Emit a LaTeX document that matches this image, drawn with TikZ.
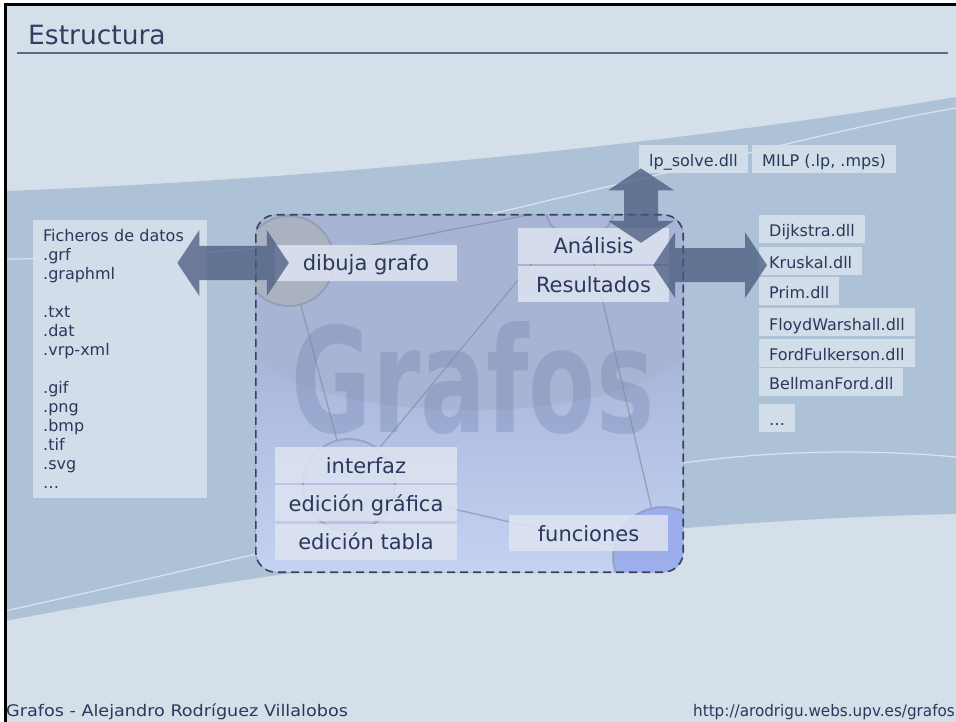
\documentclass[tikz,border=0pt]{standalone}
\usepackage{fontspec}
\setmainfont{DejaVu Sans}
\newfontfamily\footfont[FakeStretch=0.95]{DejaVu Sans}
\newfontfamily\authorfont[FakeStretch=1.1]{DejaVu Sans}
\usepackage{graphicx}
\usepackage{tikz}
\usetikzlibrary{positioning,calc}
\definecolor{slidebg}{RGB}{213,223,233}
\definecolor{bandcolor}{RGB}{173,194,215}
\definecolor{txtcolor}{RGB}{43,56,92}
\definecolor{titlecolor}{RGB}{48,64,100}
\definecolor{rulecolor}{RGB}{90,106,138}
\definecolor{tagfill}{RGB}{222,228,240}
\definecolor{listfill}{RGB}{214,224,234}
\definecolor{arrowcolor}{RGB}{72,90,126}
\definecolor{edgecolor}{RGB}{130,140,160}
\definecolor{coretop}{RGB}{168,180,211}
\definecolor{coremid}{RGB}{150,163,203}
\definecolor{corebot}{RGB}{196,210,242}
\definecolor{dashcolor}{RGB}{52,66,100}
\definecolor{markcolor}{RGB}{110,126,172}
\definecolor{vgrey}{RGB}{172,177,184}
\definecolor{vblue}{RGB}{176,186,232}
\definecolor{vdeep}{RGB}{150,168,236}

\begin{document}
\begin{tikzpicture}[
    x=1pt, y=-1pt,
    tagbox/.style={fill=tagfill, fill opacity=0.85, text opacity=1, text=txtcolor, font=\fontsize{21}{25}\selectfont, text height=21pt, text depth=5pt, minimum height=36pt, inner sep=0pt},
    dll/.style={fill=listfill, fill opacity=0.9, text opacity=1, text=txtcolor, font=\fontsize{16}{19}\selectfont, text height=19pt, text depth=3.5pt, minimum height=28pt, inner xsep=10pt, inner ysep=0pt},
    filebox/.style={fill=listfill, fill opacity=0.9, text opacity=1, text=txtcolor, font=\fontsize{16}{19}\selectfont, align=left, inner xsep=10pt, inner ysep=8pt},
    vnode/.style={circle, inner sep=0pt, draw=edgecolor, line width=2pt, draw opacity=0.5},
    graphline/.style={draw=edgecolor, line width=1.3pt, draw opacity=0.65},
    bigarrow/.style={fill=arrowcolor, fill opacity=0.75,
        to path={(\tikztostart)
            -- ($(\tikztostart)!22pt!(\tikztotarget)!33pt!90:(\tikztotarget)$)
            -- ($(\tikztostart)!22pt!(\tikztotarget)!17pt!90:(\tikztotarget)$)
            -- ($(\tikztotarget)!22pt!(\tikztostart)!17pt!-90:(\tikztostart)$)
            -- ($(\tikztotarget)!22pt!(\tikztostart)!33pt!-90:(\tikztostart)$)
            -- (\tikztotarget)
            -- ($(\tikztotarget)!22pt!(\tikztostart)!33pt!90:(\tikztostart)$)
            -- ($(\tikztotarget)!22pt!(\tikztostart)!17pt!90:(\tikztostart)$)
            -- ($(\tikztostart)!22pt!(\tikztotarget)!17pt!-90:(\tikztotarget)$)
            -- ($(\tikztostart)!22pt!(\tikztotarget)!33pt!-90:(\tikztotarget)$)
            -- cycle}}
]
\useasboundingbox (0,0) rectangle (956,722);

% Slide background
\fill[white] (0,0) rectangle (956,722);
\fill[slidebg] (5.5,4.5) rectangle (956,722);
\fill[bandcolor] (5,191) .. controls (350,178) and (700,140) .. (956,97) -- (956,514) .. controls (650,520) and (300,565) .. (5,621) -- cycle;
\draw[white, draw opacity=0.55, line width=1.2pt] (5,259) .. controls (230,258) and (400,238) .. (550,200) .. controls (700,166) and (850,126) .. (956,108);
\draw[white, draw opacity=0.55, line width=1.2pt] (5,611) .. controls (250,557) and (520,490) .. (683,463) .. controls (760,452) and (860,448) .. (956,457);
\draw[black, line width=3pt] (5.5,722) -- (5.5,4.5) -- (956,4.5);

% Title
\node[anchor=base west, inner sep=0pt, text=titlecolor, font=\fontsize{26.5}{30}\selectfont] (title) at (28,45) {Estructura};
\draw[rulecolor, line width=1.5pt] (17,53) -- (948,53);

% Center: program box
\node[minimum width=427pt, minimum height=357pt, inner sep=0pt] (core) at (469.5,393.5) {};
\fill[rounded corners=20pt, top color=coremid, middle color=coremid, bottom color=corebot] (core.north west) rectangle (core.south east);
\begin{scope}
    \clip[rounded corners=20pt] (core.north west) rectangle (core.south east);
    \fill[coretop] (core.north west) -- (256,357) .. controls (330,428) and (610,428) .. (683,357) -- (core.north east) -- cycle;
    \node[anchor=base, inner sep=0pt, text=markcolor, text opacity=0.32, font=\fontsize{146}{146}\selectfont\bfseries] (mark) at (473,432) {\scalebox{0.67}[1]{Grafos}};
    % graph behind the labels
    \node[vnode, minimum size=90pt, fill=vgrey, fill opacity=0.6] (v1) at (289,261) {};
    \node[vnode, minimum size=92pt, fill=vblue, fill opacity=0.5] (v2) at (349,485) {};
    \node[vnode, minimum size=100pt, fill=vdeep, fill opacity=0.85] (v3) at (663,557) {};
    \node[vnode, minimum size=70pt, fill=vblue, fill opacity=0.4] (v4) at (580,205) {};
    \draw[graphline] (v1) -- (v4) (v1) -- (v2) (v2) -- (v4) (v2) -- (v3) (v4) -- (v3);
\end{scope}

\node[tagbox, minimum width=182pt] (dibuja) at (366,263) {dibuja grafo};
\node[tagbox, minimum width=151pt] (analisis) at (593.5,246) {Análisis};
\node[tagbox, minimum width=151pt, below=2pt of analisis] (resultados) {Resultados};
\node[tagbox, minimum width=182pt] (interfaz) at (366,465) {interfaz};
\node[tagbox, minimum width=182pt, below=2pt of interfaz] (grafica) {edición gráfica};
\node[tagbox, minimum width=182pt, below=2pt of grafica] (tabla) {edición tabla};
\node[tagbox, minimum width=159pt] (funciones) at (588.5,533) {funciones};

\draw[dashcolor, line width=1.6pt, dash pattern=on 8pt off 5pt, rounded corners=20pt] (core.north west) rectangle (core.south east);

% Left: data files
\node[filebox, anchor=north west, text width=154pt, minimum height=278pt] (files) at (33,220) {Ficheros de datos\\.grf\\.graphml\\[19pt].txt\\.dat\\.vrp-xml\\[19pt].gif\\.png\\.bmp\\.tif\\.svg\\…};

% Right: solver and algorithm libraries
\node[dll, anchor=north west] (lp) at (639,145) {lp\_solve.dll};
\node[dll, right=4pt of lp] (milp) {MILP (.lp, .mps)};
\node[dll, anchor=north west] (dij) at (759,215) {Dijkstra.dll};
\node[dll, below=3pt of dij.south west, anchor=north west] (kruskal) {Kruskal.dll};
\node[dll, below=2pt of kruskal.south west, anchor=north west] (prim) {Prim.dll};
\node[dll, below=3pt of prim.south west, anchor=north west] (floyd) {FloydWarshall.dll};
\node[dll, below=2pt of floyd.south west, anchor=north west] (ford) {FordFulkerson.dll};
\node[dll, below=1pt of ford.south west, anchor=north west] (bellman) {BellmanFord.dll};
\node[dll, below=7pt of bellman.south west, anchor=north west] (more) {…};

% Arrows
\path (files.east |- dibuja.center) ++(-30,0) coordinate (lA);
\coordinate (lB) at ([xshift=14pt]dibuja.west);
\fill[bigarrow] (lA) to (lB);
\path (lp.south west) ++(2,-5) coordinate (tA);
\path (tA |- analisis.north) ++(0,15) coordinate (tB);
\fill[bigarrow] (tA) to (tB);
\path (analisis.south east) ++(-16,1) coordinate (rA);
\path (rA -| kruskal.west) ++(8,0) coordinate (rB);
\fill[bigarrow] (rA) to (rB);

% Footer
\node[anchor=base west, inner sep=0pt, text=txtcolor, font=\authorfont\fontsize{16}{19}\selectfont] (author) at (6,716) {Grafos - Alejandro Rodríguez Villalobos};
\node[anchor=base east, inner sep=0pt, text=txtcolor, font=\footfont\fontsize{16}{19}\selectfont] (url) at (955,716) {http://arodrigu.webs.upv.es/grafos};

\end{tikzpicture}
\end{document}
